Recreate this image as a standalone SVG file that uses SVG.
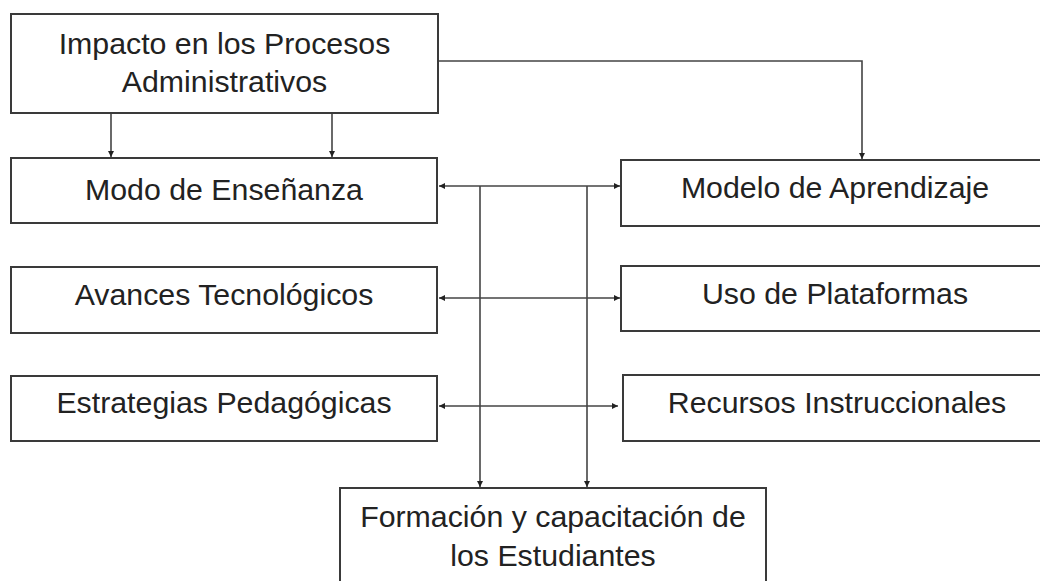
<svg xmlns="http://www.w3.org/2000/svg" width="1040" height="581" viewBox="0 0 1040 581">
<defs>
<style>
.box{fill:#fff;stroke:#3a3a3a;stroke-width:2}
.lbl{font-family:"Liberation Sans",Arial,sans-serif;font-size:30.3px;fill:#222;text-anchor:middle}
.edge{fill:none;stroke:#444;stroke-width:1.6}
</style>
<marker id="ah" markerUnits="userSpaceOnUse" markerWidth="8" markerHeight="8" refX="6" refY="3" orient="auto">
<path d="M0,0 L6,3 L0,6 Z" fill="#222"/>
</marker>
</defs>
<rect width="1040" height="581" fill="#fff"/>
<g id="connectors">
<path class="edge" d="M111,113 V157" marker-end="url(#ah)"/>
<path class="edge" d="M332,113 V157" marker-end="url(#ah)"/>
<path class="edge" d="M438,61 H862 V159" marker-end="url(#ah)"/>
<path class="edge" d="M530,186 H439" marker-end="url(#ah)"/>
<path class="edge" d="M530,186 H620" marker-end="url(#ah)"/>
<path class="edge" d="M530,298 H439" marker-end="url(#ah)"/>
<path class="edge" d="M530,298 H620" marker-end="url(#ah)"/>
<path class="edge" d="M530,406 H439" marker-end="url(#ah)"/>
<path class="edge" d="M530,406 H618" marker-end="url(#ah)"/>
<path class="edge" d="M480,186 V487" marker-end="url(#ah)"/>
<path class="edge" d="M587,186 V487" marker-end="url(#ah)"/>
</g>
<g id="impacto">
<rect class="box" x="11" y="14" width="427" height="99"/>
<text class="lbl" x="224.5" y="54">Impacto en los Procesos</text>
<text class="lbl" x="224.5" y="92">Administrativos</text>
</g>
<g id="modo">
<rect class="box" x="11" y="158" width="426" height="65"/>
<text class="lbl" x="224" y="200">Modo de Enseñanza</text>
</g>
<g id="avances">
<rect class="box" x="11" y="267" width="426" height="66"/>
<text class="lbl" x="224" y="305">Avances Tecnológicos</text>
</g>
<g id="estrategias">
<rect class="box" x="11" y="376" width="426" height="65"/>
<text class="lbl" x="224" y="413">Estrategias Pedagógicas</text>
</g>
<g id="modelo">
<rect class="box" x="621" y="160" width="428" height="66"/>
<text class="lbl" x="835" y="198">Modelo de Aprendizaje</text>
</g>
<g id="uso">
<rect class="box" x="621" y="266" width="428" height="65"/>
<text class="lbl" x="835" y="304">Uso de Plataformas</text>
</g>
<g id="recursos">
<rect class="box" x="623" y="375" width="428" height="66"/>
<text class="lbl" x="837" y="413">Recursos Instruccionales</text>
</g>
<g id="formacion">
<rect class="box" x="340" y="488" width="426" height="110"/>
<text class="lbl" x="553" y="527">Formación y capacitación de</text>
<text class="lbl" x="553" y="566">los Estudiantes</text>
</g>
</svg>
